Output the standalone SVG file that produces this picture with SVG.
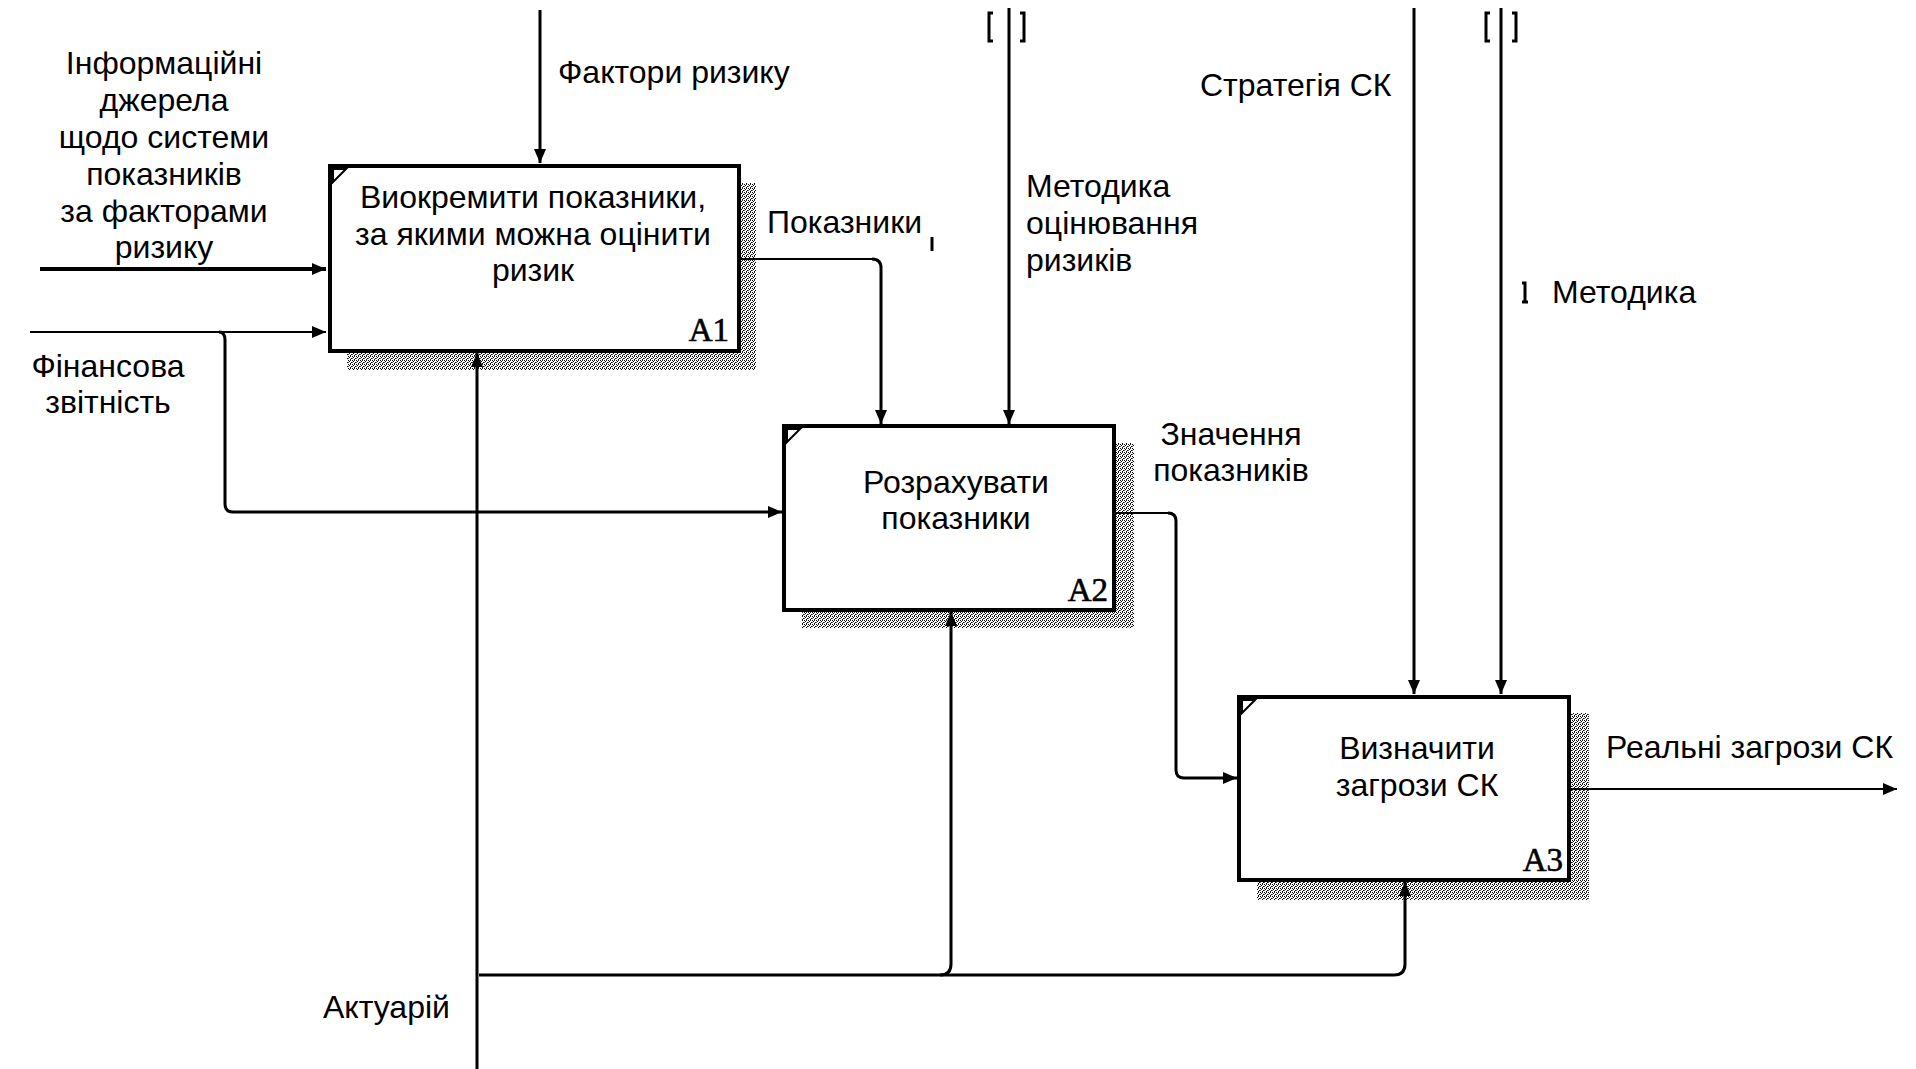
<svg xmlns="http://www.w3.org/2000/svg" width="1916" height="1069" viewBox="0 0 1916 1069">
<style>
.t{font-family:"Liberation Sans",Arial,sans-serif;font-size:32px;fill:#000}
.c{text-anchor:middle}
.lbl{font-family:"Liberation Serif","Times New Roman",serif;font-size:33px;fill:#000;stroke:#000;stroke-width:0.6;text-anchor:end}
.box{fill:#fff;stroke:#000;stroke-width:4}
.sh{fill:url(#dots)}
.ln{fill:none;stroke:#000;stroke-width:3}
.thin{fill:none;stroke:#000;stroke-width:2}
.mk{fill:none;stroke:#000;stroke-width:2}
</style>
<defs>
<pattern id="dots" width="4" height="4" patternUnits="userSpaceOnUse">
<rect width="4" height="4" fill="#fff"/>
<rect x="0" y="0" width="1" height="1" fill="#000"/>
<rect x="2" y="0" width="1" height="1" fill="#222"/>
<rect x="1" y="1" width="1" height="1" fill="#000"/>
<rect x="3" y="2" width="1" height="1" fill="#000"/>
<rect x="0" y="2" width="1" height="1" fill="#555"/>
<rect x="2" y="3" width="1" height="1" fill="#000"/>
</pattern>
<marker id="arr" viewBox="0 0 14 14" refX="14" refY="7" markerWidth="14" markerHeight="14" orient="auto" markerUnits="userSpaceOnUse">
<path d="M0,1 L14,7 L0,13 z" fill="#000"/>
</marker>
</defs>
<rect width="1916" height="1069" fill="#fff"/>

<g id="A1">
<rect class="sh" x="738" y="183" width="18" height="187"/>
<rect class="sh" x="347" y="351" width="409" height="19"/>
<rect class="box" x="330" y="166" width="409" height="185"/>
<path class="mk" d="M333,169 h13 L333,182 z"/>
<text class="t c" x="533" y="208">Виокремити показники,</text>
<text class="t c" x="533" y="245">за якими можна оцінити</text>
<text class="t c" x="533" y="281">ризик</text>
<text class="lbl" x="729" y="341">A1</text>
</g>

<g id="A2">
<rect class="sh" x="1114" y="443" width="20" height="185"/>
<rect class="sh" x="802" y="610" width="332" height="18"/>
<rect class="box" x="784" y="426" width="330" height="184"/>
<path class="mk" d="M787,429 h13 L787,442 z"/>
<text class="t c" x="956" y="493">Розрахувати</text>
<text class="t c" x="956" y="529">показники</text>
<text class="lbl" x="1108" y="601">A2</text>
</g>

<g id="A3">
<rect class="sh" x="1569" y="713" width="20" height="187"/>
<rect class="sh" x="1257" y="880" width="332" height="20"/>
<rect class="box" x="1239" y="697" width="330" height="183"/>
<path class="mk" d="M1242,700 h13 L1242,713 z"/>
<text class="t c" x="1417" y="759">Визначити</text>
<text class="t c" x="1417" y="796">загрози СК</text>
<text class="lbl" x="1563" y="871">A3</text>
</g>

<g id="connectors">
<path class="ln" d="M540,10 V163" marker-end="url(#arr)"/>
<path class="ln" style="stroke-width:4" d="M40,269 H326" marker-end="url(#arr)"/>
<path class="thin" d="M30,332 H326" marker-end="url(#arr)"/>
<path class="ln" d="M219,332 q6,0 6,8 V504 q0,8 8,8 H782" marker-end="url(#arr)"/>
<path class="thin" d="M741,259 H872"/>
<path class="ln" d="M872,259 q9,0 9,9 V424" marker-end="url(#arr)"/>
<path class="ln" d="M1009,8 V424" marker-end="url(#arr)"/>
<path class="thin" d="M1116,513 H1168"/>
<path class="ln" d="M1168,513 q8,0 8,8 V770 q0,8 8,8 H1237" marker-end="url(#arr)"/>
<path class="ln" d="M1414,8 V694" marker-end="url(#arr)"/>
<path class="ln" d="M1501,8 V694" marker-end="url(#arr)"/>
<path class="thin" d="M1571,789 H1897" marker-end="url(#arr)"/>
<path class="ln" d="M477,1069 V353" marker-end="url(#arr)"/>
<path class="ln" d="M479,975 H1394 q11,0 11,-11 V882" marker-end="url(#arr)"/>
<path class="ln" d="M940,975 q11,0 11,-11 V612" marker-end="url(#arr)"/>
<path class="ln" d="M993,13 h-4 v28 h4 M1020,13 h4 v28 h-4"/>
<path class="ln" d="M1490,13 h-4 v28 h4 M1512,13 h4 v28 h-4"/>
<path class="ln" d="M932,237 v14"/>
<path class="ln" d="M1522,283 h3 v19 M1522,302 h6"/>
</g>

<g id="labels">
<text class="t c" x="164" y="74">Інформаційні</text>
<text class="t c" x="164" y="111">джерела</text>
<text class="t c" x="164" y="148">щодо системи</text>
<text class="t c" x="164" y="185">показників</text>
<text class="t c" x="164" y="222">за факторами</text>
<text class="t c" x="164" y="258">ризику</text>
<text class="t c" x="108" y="377">Фінансова</text>
<text class="t c" x="108" y="413">звітність</text>
<text class="t" x="558" y="83">Фактори ризику</text>
<text class="t" x="767" y="233">Показники</text>
<text class="t" x="1026" y="197">Методика</text>
<text class="t" x="1026" y="234">оцінювання</text>
<text class="t" x="1026" y="271">ризиків</text>
<text class="t c" x="1231" y="445">Значення</text>
<text class="t c" x="1231" y="481">показників</text>
<text class="t" x="1200" y="96">Стратегія СК</text>
<text class="t" x="1552" y="303">Методика</text>
<text class="t" x="1606" y="758">Реальні загрози СК</text>
<text class="t" x="323" y="1018">Актуарій</text>
</g>
</svg>
